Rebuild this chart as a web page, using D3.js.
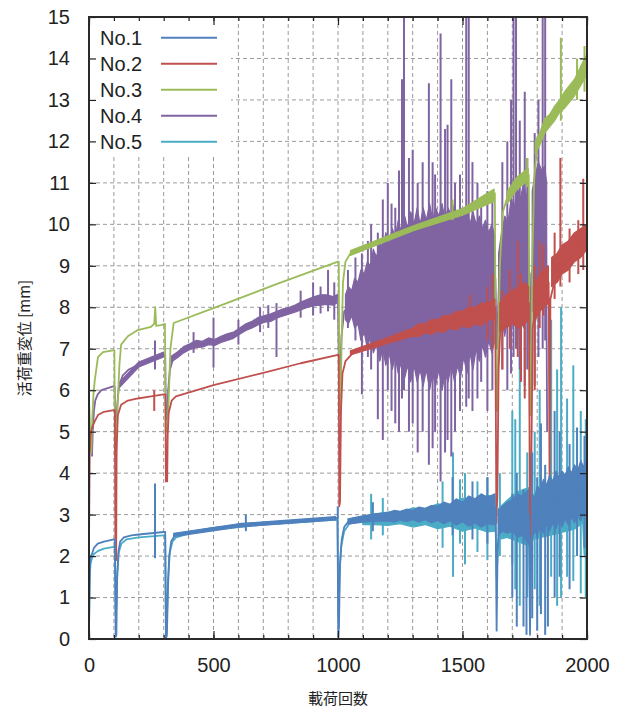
<!DOCTYPE html>
<html>
<head>
<meta charset="utf-8">
<script src="https://cdn.jsdelivr.net/npm/d3@7"></script>
<style>
  body { margin: 0; background: #fff; }
  text { font-family: "Liberation Sans", Arial, sans-serif; fill: #222; }
  .cjk { font-family: "Noto Sans CJK JP", "Noto Sans CJK SC", sans-serif; }
</style>
</head>
<body>
<div id="chart"></div>
<script>
// axis ticks
const xMajor = [0, 500, 1000, 1500, 2000];
const xMinor = d3.range(0, 2001, 100);
const yTicks = d3.range(0, 16, 1);

// each series: line = [cycles, mm], band = [cycles, low, high] (null breaks), spikes = [cycles, low, high]

// No.1 (blue)
const no1Line = [[0,0.1],[2,1.2],[4,1.8],[7,2.0],[12,2.05],[20,2.2],[35,2.3],[60,2.35],[100,2.4],[104,2.4],[107,0.05],[110,0.1],[113,1.5],[118,2.1],[125,2.35],[140,2.45],[170,2.5],[200,2.52],[250,2.55],[300,2.58],[306,2.58],[309,0],[313,0.1],[317,1.2],[322,2.0],[330,2.35],[345,2.5],[400,2.58],[500,2.68],[600,2.74],[700,2.8],[800,2.84],[900,2.88],[998,2.92],[1001,0.05],[1004,0.3],[1008,1.8],[1015,2.4],[1025,2.7],[1040,2.82],[1100,2.88],[1200,2.95],[1300,3.0],[1400,3.05],[1500,3.1],[1600,3.15],[1633,3.2],[1637,0.2],[1641,2.2],[1650,2.8],[1700,3.0],[1767,3.0],[1771,0.1],[1776,2.4],[1790,3.1],[1850,3.3],[1900,3.4],[1950,3.5],[2000,3.7]];
const no1Band = [[340,2.47,2.55],[600,2.7,2.78],[990,2.87,2.95],null,
  [1040,2.77,2.9],[1100,2.82,2.97],[1150,2.84,3.02],[1200,2.85,3.05],[1225,2.82,3.1],[1250,2.87,3.08],[1275,2.83,3.13],[1300,2.88,3.1],[1325,2.82,3.18],[1350,2.88,3.15],[1375,2.8,3.22],[1400,2.86,3.2],[1425,2.78,3.3],[1450,2.85,3.25],[1475,2.75,3.38],[1500,2.83,3.3],[1525,2.72,3.45],[1550,2.8,3.38],[1575,2.7,3.5],[1600,2.78,3.42],[1630,2.75,3.5],null,
  [1643,2.5,3.1],[1660,2.6,3.2],[1680,2.55,3.3],[1700,2.6,3.35],[1720,2.45,3.5],[1740,2.5,3.45],[1765,2.3,3.6],null,
  [1778,2.4,3.5],[1790,2.6,3.4],[1800,2.5,3.7],[1812,2.7,3.6],[1825,2.55,3.85],[1837,2.75,3.7],[1850,2.6,3.95],[1862,2.8,3.8],[1875,2.65,4.05],[1887,2.85,3.9],[1900,2.7,4.05],[1912,2.9,3.95],[1925,2.75,4.15],[1937,2.95,4.0],[1950,2.8,4.2],[1962,3.0,4.05],[1975,2.85,4.3],[1987,3.05,4.15],[2000,2.95,4.35]];
const no1Spikes = [[265,1.95,3.75],[630,2.6,3.0],[999,2.9,3.2],[1140,2.6,3.3],[1460,2.5,3.9],[1540,2.4,3.8],[1600,2.3,3.9],[1700,1.0,3.5],[1718,0.3,4.0],[1745,0.3,3.6],[1757,0.1,3.5],[1780,0.5,4.5],[1800,0.2,3.9],[1815,0.6,5.2],[1832,0.1,4.2],[1843,0.3,3.8],[1870,1.0,5.5],[1890,1.5,5.0],[1930,1.2,4.7],[1960,2.0,5.1],[1990,2.2,4.9]];

// No.2 (red)
const no2Line = [[0,2.3],[3,4.5],[6,4.9],[12,5.1],[23,5.25],[36,5.4],[60,5.48],[100,5.52],[104,5.52],[106,1.9],[109,1.9],[111,4.6],[116,5.4],[129,5.65],[156,5.75],[196,5.8],[249,5.85],[300,5.9],[307,5.9],[309,3.8],[314,3.8],[316,4.9],[320,5.45],[332,5.75],[349,5.85],[500,6.12],[700,6.42],[850,6.65],[1000,6.85],[1003,6.85],[1005,3.2],[1008,3.3],[1012,5.5],[1018,6.4],[1030,6.7],[1060,6.9],[1100,7.0],[1200,7.2],[1300,7.4],[1400,7.55],[1500,7.7],[1600,7.9],[1632,8.0],[1636,2.8],[1640,3.5],[1645,6.5],[1652,7.5],[1670,7.8],[1700,8.0],[1767,8.1],[1771,2.2],[1776,4.0],[1782,7.5],[1800,8.3],[1846,8.6],[1850,3.2],[1853,8.2],[1880,8.9],[1900,9.1],[1950,9.4],[2000,9.7]];
const no2Band = [[1050,6.85,6.95],[1200,7.13,7.27],[1300,7.3,7.5],[1325,7.3,7.6],[1350,7.38,7.6],[1375,7.35,7.7],[1400,7.42,7.7],[1425,7.4,7.8],[1450,7.5,7.8],[1475,7.45,7.9],[1500,7.55,7.9],[1525,7.5,8.0],[1550,7.6,8.0],[1575,7.55,8.1],[1600,7.7,8.1],[1630,7.7,8.2],null,
  [1650,7.4,8.1],[1675,7.5,8.3],[1700,7.6,8.4],[1725,7.5,8.5],[1750,7.6,8.6],[1765,7.7,8.5],null,
  [1785,7.6,8.5],[1810,7.9,8.8],[1845,8.1,9.0],null,
  [1858,8.5,9.2],[1880,8.6,9.3],[1900,8.8,9.5],[1925,8.9,9.6],[1950,9.1,9.8],[1975,9.2,9.9],[2000,9.4,10.0]];
const no2Spikes = [[262,5.5,6.0],[1530,7.5,8.3],[1600,7.2,8.5],[1620,7.0,8.8],[1660,6.5,8.4],[1690,7.0,8.9],[1722,6.8,9.6],[1735,6.2,8.8],[1750,5.8,8.5],[1790,6.0,9.0],[1810,7.5,9.6],[1825,7.8,9.5],[1870,8.2,9.8],[1893,8.5,11.6],[1930,8.6,9.9],[1965,8.8,10.1],[1985,8.9,11.1]];

// No.3 (green)
const no3Line = [[0,5.8],[3,5.3],[6,4.6],[9,4.5],[13,5.3],[18,5.9],[23,6.23],[36,6.8],[56,6.92],[96,6.96],[102,6.96],[104,4.4],[109,4.4],[112,5.2],[116,5.75],[122,6.6],[129,7.1],[156,7.3],[196,7.45],[249,7.53],[262,7.6],[266,8.0],[270,7.55],[289,7.57],[305,7.6],[308,5.0],[314,5.0],[319,5.6],[327,7.0],[340,7.62],[500,7.98],[750,8.55],[1000,9.1],[1003,9.1],[1006,5.4],[1010,5.4],[1014,7.0],[1020,8.6],[1030,9.1],[1050,9.3],[1100,9.45],[1200,9.7],[1300,9.9],[1400,10.1],[1500,10.3],[1600,10.55],[1630,10.75],[1634,5.5],[1639,5.5],[1644,7.4],[1650,9.0],[1662,10.3],[1680,10.65],[1700,10.9],[1730,11.1],[1766,11.2],[1770,5.4],[1775,5.4],[1780,9.0],[1788,11.1],[1800,11.9],[1830,12.4],[1870,12.7],[1900,12.95],[1950,13.3],[2000,13.8]];
const no3Band = [[1050,9.25,9.37],[1300,9.84,9.96],[1500,10.22,10.38],[1627,10.55,10.85],null,
  [1680,10.5,10.8],[1720,10.85,11.15],[1764,11.05,11.35],null,
  [1792,11.7,12.0],[1810,11.9,12.2],[1830,12.2,12.55],[1850,12.35,12.65],[1870,12.5,12.85],[1890,12.7,13.0],[1910,12.8,13.2],[1930,12.95,13.35],[1950,13.1,13.5],[1970,13.3,13.75],[1990,13.5,14.0],[2000,13.6,14.1]];
const no3Spikes = [[1460,10.1,10.6],[1760,10.9,11.6],[1895,12.5,14.5],[1960,13.0,14.0],[1990,13.2,14.3]];

// No.4 (purple)
const no4Line = [[12,4.4],[15,5.0],[20,5.5],[25,5.75],[35,5.9],[50,6.0],[75,6.05],[100,6.1],[103,6.1],[106,4.6],[109,4.7],[113,5.6],[120,6.1],[135,6.35],[160,6.5],[200,6.62],[250,6.72],[262,6.75],[300,6.85],[306,6.85],[309,5.3],[314,5.3],[318,6.0],[325,6.5],[340,6.8],[420,7.1],[580,7.32],[687,7.68],[807,7.92],[900,8.15],[987,8.18],[1000,8.3],[1004,6.2],[1008,6.3],[1014,7.3],[1025,7.9],[1050,8.05],[1100,8.1],[1200,8.3],[1300,8.4],[1400,8.5],[1500,8.6],[1600,8.7],[1632,8.7],[1638,7.0],[1646,8.5],[1700,9.0],[1765,9.2],[1769,6.5],[1776,8.8],[1800,9.3],[1836,9.5],[1840,5.0]];
const no4Band = [[120,6.05,6.18],[200,6.56,6.68],[300,6.8,6.92],null,
  [330,6.68,6.82],[355,6.78,6.92],[380,6.9,7.05],[405,6.98,7.12],[430,7.03,7.2],[455,7.04,7.18],[480,7.1,7.26],[505,7.08,7.22],[530,7.15,7.3],[555,7.2,7.36],[580,7.25,7.4],[605,7.35,7.5],[630,7.44,7.6],[655,7.5,7.66],[680,7.58,7.76],[705,7.64,7.8],[730,7.66,7.84],[755,7.74,7.9],[780,7.79,7.96],[805,7.84,8.0],[830,7.89,8.06],[855,7.95,8.14],[880,8.0,8.2],[905,8.04,8.26],[930,8.05,8.3],[955,8.07,8.3],[980,8.05,8.26],[995,8.1,8.3],null,
  [1030,7.7,8.3],[1042,7.6,8.5],[1055,7.8,8.4],[1067,7.5,8.7],[1080,7.6,8.6],[1092,7.2,8.9],[1105,7.4,8.8],[1118,7.0,9.1],[1130,7.3,9.0],[1142,6.9,9.4],[1155,7.1,9.2],[1168,6.7,9.6],[1180,7.0,9.4],[1192,6.6,9.8],[1205,6.9,9.5],[1218,6.5,9.9],[1230,6.8,9.7],[1242,6.4,10.1],[1255,6.7,9.8],[1268,6.3,10.2],[1280,6.6,9.9],[1292,6.2,10.3],[1305,6.6,10.0],[1318,6.2,10.4],[1330,6.5,10.0],[1342,6.1,10.4],[1355,6.5,10.1],[1368,6.0,10.5],[1380,6.4,10.1],[1392,6.1,10.4],[1405,6.5,10.2],[1418,6.0,10.5],[1430,6.4,10.1],[1442,6.2,10.4],[1455,6.6,10.2],[1468,6.2,10.5],[1480,6.6,10.1],[1492,6.3,10.4],[1505,6.8,10.2],[1518,6.4,10.4],[1530,6.9,10.0],[1542,6.5,10.3],[1555,7.0,10.0],[1568,6.7,10.2],[1580,7.1,9.9],[1592,6.8,10.1],[1605,7.2,9.8],[1618,6.9,10.0],[1630,7.2,9.7],null,
  [1645,7.4,9.3],[1657,7.8,9.8],[1670,7.3,10.2],[1682,7.9,10.0],[1695,7.4,10.6],[1708,7.9,10.4],[1720,7.3,10.9],[1732,7.9,10.6],[1745,7.5,11.0],[1757,8.0,10.7],[1764,7.8,10.6],null,
  [1780,7.9,10.8],[1792,8.2,11.2],[1805,7.8,11.5],[1818,8.3,11.3],[1830,8.0,11.4],[1838,8.3,11.0]];
const no4Spikes = [[265,6.5,7.2],[420,6.9,7.4],[500,6.55,7.75],[600,7.1,7.7],[687,7.4,8.0],[720,7.5,8.05],[753,6.8,8.1],[850,7.75,8.4],[900,7.8,8.6],[930,7.85,8.5],[960,7.9,8.9],[985,7.7,8.6],[1040,7.5,8.9],[1070,7.2,9.2],[1096,5.9,9.3],[1120,6.8,9.6],[1133,6.5,10.0],[1160,5.3,9.8],[1180,4.8,10.6],[1200,6.0,11.0],[1215,5.5,10.5],[1230,5.2,10.4],[1245,5.0,11.3],[1257,5.8,13.5],[1265,6.0,15],[1285,5.0,11.6],[1300,5.2,11.8],[1320,4.5,11.0],[1340,5.0,11.5],[1365,4.2,13.4],[1380,4.6,11.5],[1390,5.0,11.2],[1412,3.8,14.6],[1430,4.5,12.3],[1440,4.8,12.4],[1455,4.4,13.5],[1470,5.0,11.0],[1490,5.5,11.2],[1515,5.6,15],[1525,5.8,15],[1540,5.5,11.5],[1560,5.8,11.0],[1575,6.2,10.5],[1600,5.5,10.8],[1620,6.0,10.6],[1660,6.5,11.5],[1680,6.0,12.0],[1695,6.4,13.0],[1705,6.8,15],[1715,7.0,15],[1730,6.5,12.5],[1750,6.1,13.2],[1760,6.5,11.6],[1790,6.1,12.2],[1805,6.8,13.0],[1822,7.0,15],[1832,7.2,15]];

// No.5 (cyan)
const no5Line = [[0,0.3],[3,1.5],[6,1.8],[12,1.95],[20,2.05],[35,2.12],[60,2.18],[100,2.22],[104,2.22],[107,0.6],[110,0.8],[114,1.6],[120,2.1],[130,2.3],[150,2.4],[200,2.45],[300,2.5],[306,2.5],[309,0.3],[313,0.5],[318,1.5],[325,2.1],[335,2.35],[350,2.45],[400,2.54],[500,2.64],[700,2.76],[900,2.84],[998,2.88],[1002,0.5],[1006,1.5],[1012,2.2],[1025,2.6],[1045,2.78],[1100,2.85],[1300,2.95],[1500,3.0],[1632,3.1],[1637,1.5],[1645,2.5],[1700,2.9],[1767,2.8],[1771,1.0],[1778,2.3],[1800,2.9],[1900,3.2],[1980,3.3],[1990,2.0],[1995,2.8],[2000,1.5]];
const no5Band = [[1100,2.76,2.96],[1150,2.76,3.02],[1200,2.74,3.06],[1250,2.78,3.06],[1300,2.7,3.16],[1350,2.76,3.14],[1400,2.66,3.26],[1450,2.72,3.22],[1500,2.6,3.4],[1550,2.68,3.36],[1600,2.58,3.46],[1630,2.6,3.46],null,
  [1645,2.4,3.15],[1680,2.45,3.35],[1720,2.35,3.55],[1765,2.25,3.65],null,
  [1780,2.4,3.45],[1850,2.5,3.8],[1950,2.65,4.05],[1995,2.85,4.15]];
const no5Spikes = [[1133,2.4,3.5],[1180,2.5,3.4],[1420,2.2,3.8],[1462,1.5,4.5],[1490,2.3,3.85],[1510,1.8,4.0],[1560,2.1,3.8],[1600,1.9,3.9],[1650,2.0,4.0],[1700,1.8,5.5],[1712,1.2,5.3],[1730,0.8,7.4],[1760,1.0,4.5],[1790,1.2,5.0],[1810,0.8,6.0],[1856,1.5,7.7],[1880,0.8,6.5],[1896,1.0,8.0],[1920,1.5,5.8],[1945,1.4,6.6],[1975,1.1,5.5],[1995,1.0,5.3]];

const seriesNames = ["No.1", "No.2", "No.3", "No.4", "No.5"];
const seriesColors = ["#4f81bd", "#c0504d", "#9bbb59", "#8064a2", "#4bacc6"];

(function () {
  const svgW = 619, svgH = 709;
  const margin = { top: 17, right: 32, bottom: 70, left: 89 };
  const width = svgW - margin.left - margin.right,
    height = svgH - margin.top - margin.bottom;

  const series = [
    { line: no1Line, band: no1Band, spikes: no1Spikes },
    { line: no2Line, band: no2Band, spikes: no2Spikes },
    { line: no3Line, band: no3Band, spikes: no3Spikes },
    { line: no4Line, band: no4Band, spikes: no4Spikes },
    { line: no5Line, band: no5Band, spikes: no5Spikes }
  ].map((s, i) => Object.assign(s, { name: seriesNames[i], color: seriesColors[i] }));

  const x = d3.scaleLinear().domain([0, 2000]).range([0, width]);
  const y = d3.scaleLinear().domain([0, 15]).range([height, 0]);

  const root = d3.select("#chart").append("svg")
    .attr("width", svgW)
    .attr("height", svgH);
  root.append("rect").attr("width", svgW).attr("height", svgH).attr("fill", "#fff");

  const svg = root.append("g")
    .attr("transform", "translate(" + margin.left + "," + margin.top + ")");

  svg.append("clipPath").attr("id", "plotclip")
    .append("rect").attr("width", width).attr("height", height);

  // grid
  const grid = svg.append("g").attr("class", "grid")
    .attr("stroke", "#9a9a9a").attr("stroke-width", 1).attr("stroke-dasharray", "4,3");
  grid.selectAll(".gx").data(xMinor.filter(v => v > 0 && v < 2000)).enter().append("line")
    .attr("x1", d => x(d)).attr("x2", d => x(d)).attr("y1", 0).attr("y2", height);
  grid.selectAll(".gy").data(yTicks.filter(v => v > 0 && v < 15)).enter().append("line")
    .attr("y1", d => y(d)).attr("y2", d => y(d)).attr("x1", 0).attr("x2", width);

  // legend background hides grid
  svg.append("rect").attr("x", 0).attr("y", 0).attr("width", 142).attr("height", 139).attr("fill", "#fff");

  // series, drawn last-to-first so No.1 ends on top
  const plot = svg.append("g").attr("clip-path", "url(#plotclip)");
  const lineGen = d3.line().defined(d => d).x(d => x(d[0])).y(d => y(d[1]));
  const areaGen = d3.area().defined(d => d).x(d => x(d[0])).y0(d => y(d[1])).y1(d => y(d[2]));

  series.slice().reverse().forEach(function (s) {
    const g = plot.append("g");
    g.append("path").datum(s.band)
      .attr("d", areaGen)
      .attr("fill", s.color).attr("stroke", s.color).attr("stroke-width", 1.2)
      .attr("stroke-linejoin", "round");
    g.append("path").datum(s.line)
      .attr("d", lineGen)
      .attr("fill", "none").attr("stroke", s.color).attr("stroke-width", 1.8)
      .attr("stroke-linejoin", "round");
    g.selectAll(".spike").data(s.spikes).enter().append("path")
      .attr("d", d => lineGen([[d[0], d[1]], [d[0], d[2]]]))
      .attr("stroke", s.color).attr("stroke-width", 2).attr("fill", "none");
  });

  // axes (ticks point inward, gnuplot style)
  const styleAxis = sel => {
    sel.select(".domain").remove();
    sel.selectAll("line").attr("stroke", "#222").attr("stroke-width", 1.2);
    sel.selectAll("text").attr("font-size", "20px").attr("fill", "#222")
      .style("font-family", '"Liberation Sans", Arial, sans-serif');
  };
  svg.append("g").attr("transform", "translate(0," + height + ")")
    .call(d3.axisBottom(x).tickValues(xMinor).tickSize(-4).tickFormat(""))
    .call(styleAxis);
  svg.append("g").attr("transform", "translate(0," + height + ")")
    .call(d3.axisBottom(x).tickValues(xMajor).tickSize(-8).tickPadding(19).tickFormat(d3.format("d")))
    .call(styleAxis);
  svg.append("g")
    .call(d3.axisTop(x).tickValues(xMinor).tickSize(-4).tickFormat(""))
    .call(styleAxis);
  svg.append("g")
    .call(d3.axisTop(x).tickValues(xMajor).tickSize(-8).tickFormat(""))
    .call(styleAxis);
  svg.append("g")
    .call(d3.axisLeft(y).tickValues(yTicks).tickSize(-7).tickPadding(19).tickFormat(d3.format("d")))
    .call(styleAxis);
  svg.append("g").attr("transform", "translate(" + width + ",0)")
    .call(d3.axisRight(y).tickValues(yTicks).tickSize(-7).tickFormat(""))
    .call(styleAxis);

  // frame
  svg.append("rect").attr("width", width).attr("height", height)
    .attr("fill", "none").attr("stroke", "#2a2a2a").attr("stroke-width", 2);

  // legend
  const legend = svg.append("g").selectAll(".legend").data(series).enter().append("g")
    .attr("transform", (d, i) => "translate(0," + (20.7 + i * 26) + ")");
  legend.append("text").attr("x", 11).attr("y", 7)
    .attr("font-size", "20px").text(d => d.name);
  legend.append("line").attr("x1", 72).attr("x2", 128).attr("y1", 0).attr("y2", 0)
    .attr("stroke", d => d.color).attr("stroke-width", 2);

  // axis labels
  svg.append("text").attr("class", "cjk")
    .attr("x", width / 2).attr("y", height + 65)
    .attr("text-anchor", "middle").attr("font-size", "15px")
    .text("載荷回数");
  svg.append("text").attr("class", "cjk")
    .attr("transform", "translate(" + (-59) + "," + (height / 2 + 10) + ") rotate(-90)")
    .attr("text-anchor", "middle").attr("font-size", "15px")
    .text("活荷重変位 [mm]");
})();
</script>
</body>
</html>
